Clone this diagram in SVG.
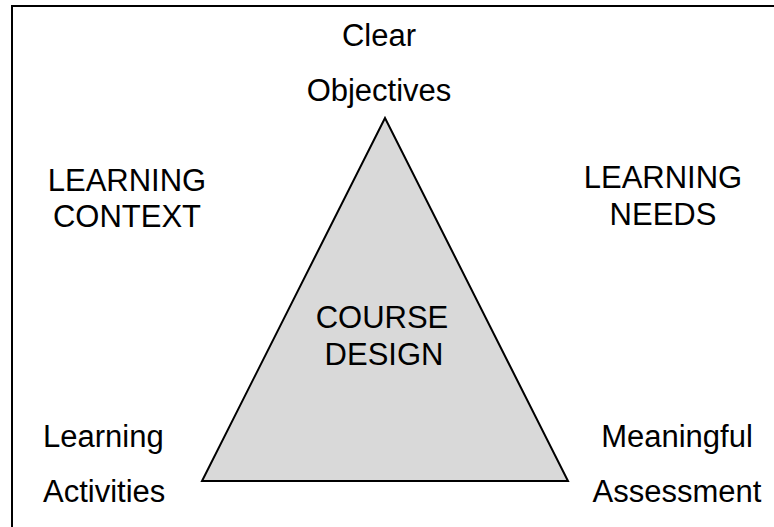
<svg xmlns="http://www.w3.org/2000/svg" width="774" height="527" viewBox="0 0 774 527">
<style>
text{font-family:"Liberation Sans",Arial,sans-serif;font-size:31px;fill:#000;text-anchor:middle}
</style>
<rect x="0" y="0" width="774" height="527" fill="#fff"/>
<rect id="frame" x="12" y="6" width="800" height="560" fill="none" stroke="#000" stroke-width="2"/>
<g id="course-design">
<polygon points="385,118 202,481 568,481" fill="#d9d9d9" stroke="#000" stroke-width="2" stroke-linejoin="miter"/>
<text x="382" y="328">COURSE</text>
<text x="384" y="365">DESIGN</text>
</g>
<g id="objectives">
<text x="379" y="46">Clear</text>
<text x="379" y="101">Objectives</text>
</g>
<g id="context">
<text x="127" y="191">LEARNING</text>
<text x="127" y="227">CONTEXT</text>
</g>
<g id="needs">
<text x="663" y="188">LEARNING</text>
<text x="663" y="225">NEEDS</text>
</g>
<g id="activities">
<text x="43" y="447" style="text-anchor:start">Learning</text>
<text x="43" y="502" style="text-anchor:start">Activities</text>
</g>
<g id="assessment">
<text x="677" y="447">Meaningful</text>
<text x="677" y="502">Assessment</text>
</g>
<g id="connectors"></g>
</svg>
